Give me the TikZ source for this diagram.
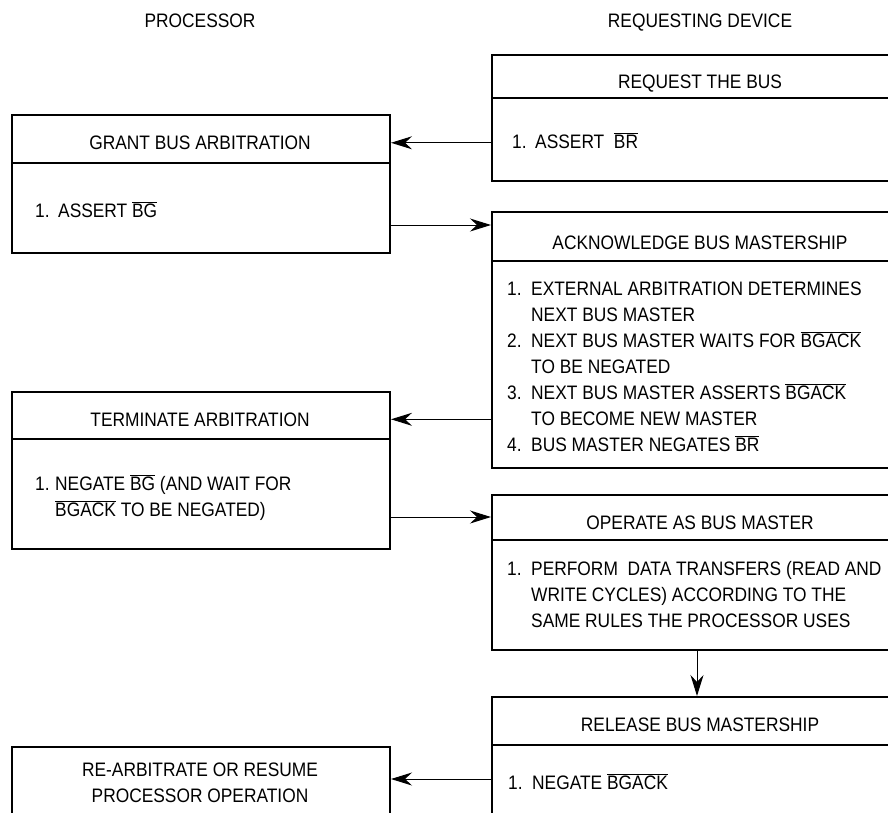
\documentclass[tikz,border=0pt]{standalone}
\usepackage{fontspec}
\setmainfont{Liberation Sans}[FakeStretch=0.89]
\usetikzlibrary{arrows.meta}
\newcommand\ovl[1]{$\overline{\mbox{#1}}$}
\newcommand\itm[1]{\makebox[24pt][l]{#1}}
\newcommand\ind{\hspace*{24pt}}
\tikzset{
  box/.style={draw, line width=2pt, anchor=north west, inner sep=0pt},
  bar/.style={line width=2pt},
  ttl/.style={anchor=base, inner sep=0pt},
  txt/.style={anchor=base west, inner sep=0pt, align=left},
  arr/.style={-{Stealth[length=21pt,width=13pt,inset=7pt]}, line width=1pt},
}
\begin{document}
\begin{tikzpicture}[x=1pt,y=1pt,font=\fontsize{19.5pt}{26pt}\selectfont]
  \useasboundingbox (0,0) rectangle (888,-812);
  \clip (0,0) rectangle (888,-812);

  \node[ttl] (proc) at (200,-27) {PROCESSOR};
  \node[ttl] (dev) at (700,-27) {REQUESTING DEVICE};

  % processor side
  \node[box, minimum width=378pt, minimum height=138pt] (grant) at (11,-114) {};
  \draw[bar] ([yshift=-49pt]grant.north west) -- ([yshift=-49pt]grant.north east);
  \node[ttl] (grantT) at (200,-149.5) {GRANT BUS ARBITRATION};
  \node[txt] (grantB) at (35,-217) {\makebox[23pt][l]{1.}ASSERT \ovl{BG}};

  \node[box, minimum width=378pt, minimum height=157pt] (term) at (11,-391) {};
  \draw[bar] ([yshift=-48pt]term.north west) -- ([yshift=-48pt]term.north east);
  \node[ttl] (termT) at (200,-426) {TERMINATE ARBITRATION};
  \node[txt] (termB) at (35,-516.5) {\makebox[20pt][l]{1.}NEGATE \ovl{BG} (AND WAIT FOR\\
    \hspace*{20pt}\ovl{BGACK} TO BE NEGATED)};

  \node[box, minimum width=378pt, minimum height=110pt] (rearb) at (11,-746) {};
  \node[anchor=base, inner sep=0pt, align=center] (rearbT) at (200,-802)
    {RE-ARBITRATE OR RESUME\\ PROCESSOR OPERATION};

  % requesting device side
  \node[box, minimum width=418pt, minimum height=126pt] (req) at (491,-54) {};
  \draw[bar] ([yshift=-44pt]req.north west) -- ([yshift=-44pt]req.north east);
  \node[ttl] (reqT) at (700,-88.5) {REQUEST THE BUS};
  \node[txt] (reqB) at (512,-148) {\makebox[23pt][l]{1.}ASSERT\ \ \ovl{BR}};

  \node[box, minimum width=418pt, minimum height=256pt] (ack) at (491,-211) {};
  \draw[bar] ([yshift=-50pt]ack.north west) -- ([yshift=-50pt]ack.north east);
  \node[ttl] (ackT) at (700,-249) {ACKNOWLEDGE BUS MASTERSHIP};
  \node[txt] (ackB) at (507,-451) {\itm{1.}EXTERNAL ARBITRATION DETERMINES\\
    \ind NEXT BUS MASTER\\
    \itm{2.}NEXT BUS MASTER WAITS FOR \ovl{BGACK}\\
    \ind TO BE NEGATED\\
    \itm{3.}NEXT BUS MASTER ASSERTS \ovl{BGACK}\\
    \ind TO BECOME NEW MASTER\\
    \itm{4.}BUS MASTER NEGATES \ovl{BR}};

  \node[box, minimum width=418pt, minimum height=155pt] (oper) at (491,-494) {};
  \draw[bar] ([yshift=-46pt]oper.north west) -- ([yshift=-46pt]oper.north east);
  \node[ttl] (operT) at (700,-529) {OPERATE AS BUS MASTER};
  \node[txt] (operB) at (507,-627.5) {\itm{1.}PERFORM\ \ DATA TRANSFERS (READ AND\\
    \ind WRITE CYCLES) ACCORDING TO THE\\
    \ind SAME RULES THE PROCESSOR USES};

  \node[box, minimum width=418pt, minimum height=160pt] (rel) at (491,-696) {};
  \draw[bar] ([yshift=-49pt]rel.north west) -- ([yshift=-49pt]rel.north east);
  \node[ttl] (relT) at (700,-731) {RELEASE BUS MASTERSHIP};
  \node[txt] (relB) at (508,-789) {\itm{1.}NEGATE \ovl{BGACK}};

  % handshake
  \draw[arr] (req.west |- grantT) -- (grant.east |- grantT);
  \coordinate (g2a) at ([yshift=-111pt]grant.north east);
  \draw[arr] (g2a) -- (g2a -| ack.west);
  \draw[arr] (ack.west |- termT) -- (term.east |- termT);
  \coordinate (t2o) at ([yshift=-126pt]term.north east);
  \draw[arr] (t2o) -- (t2o -| oper.west);
  \draw[arr] ([xshift=-4pt]oper.south) -- ([xshift=-4pt]rel.north);
  \coordinate (r2r) at ([yshift=-33pt]rearb.north east);
  \draw[arr] (rel.west |- r2r) -- (r2r);
\end{tikzpicture}
\end{document}
